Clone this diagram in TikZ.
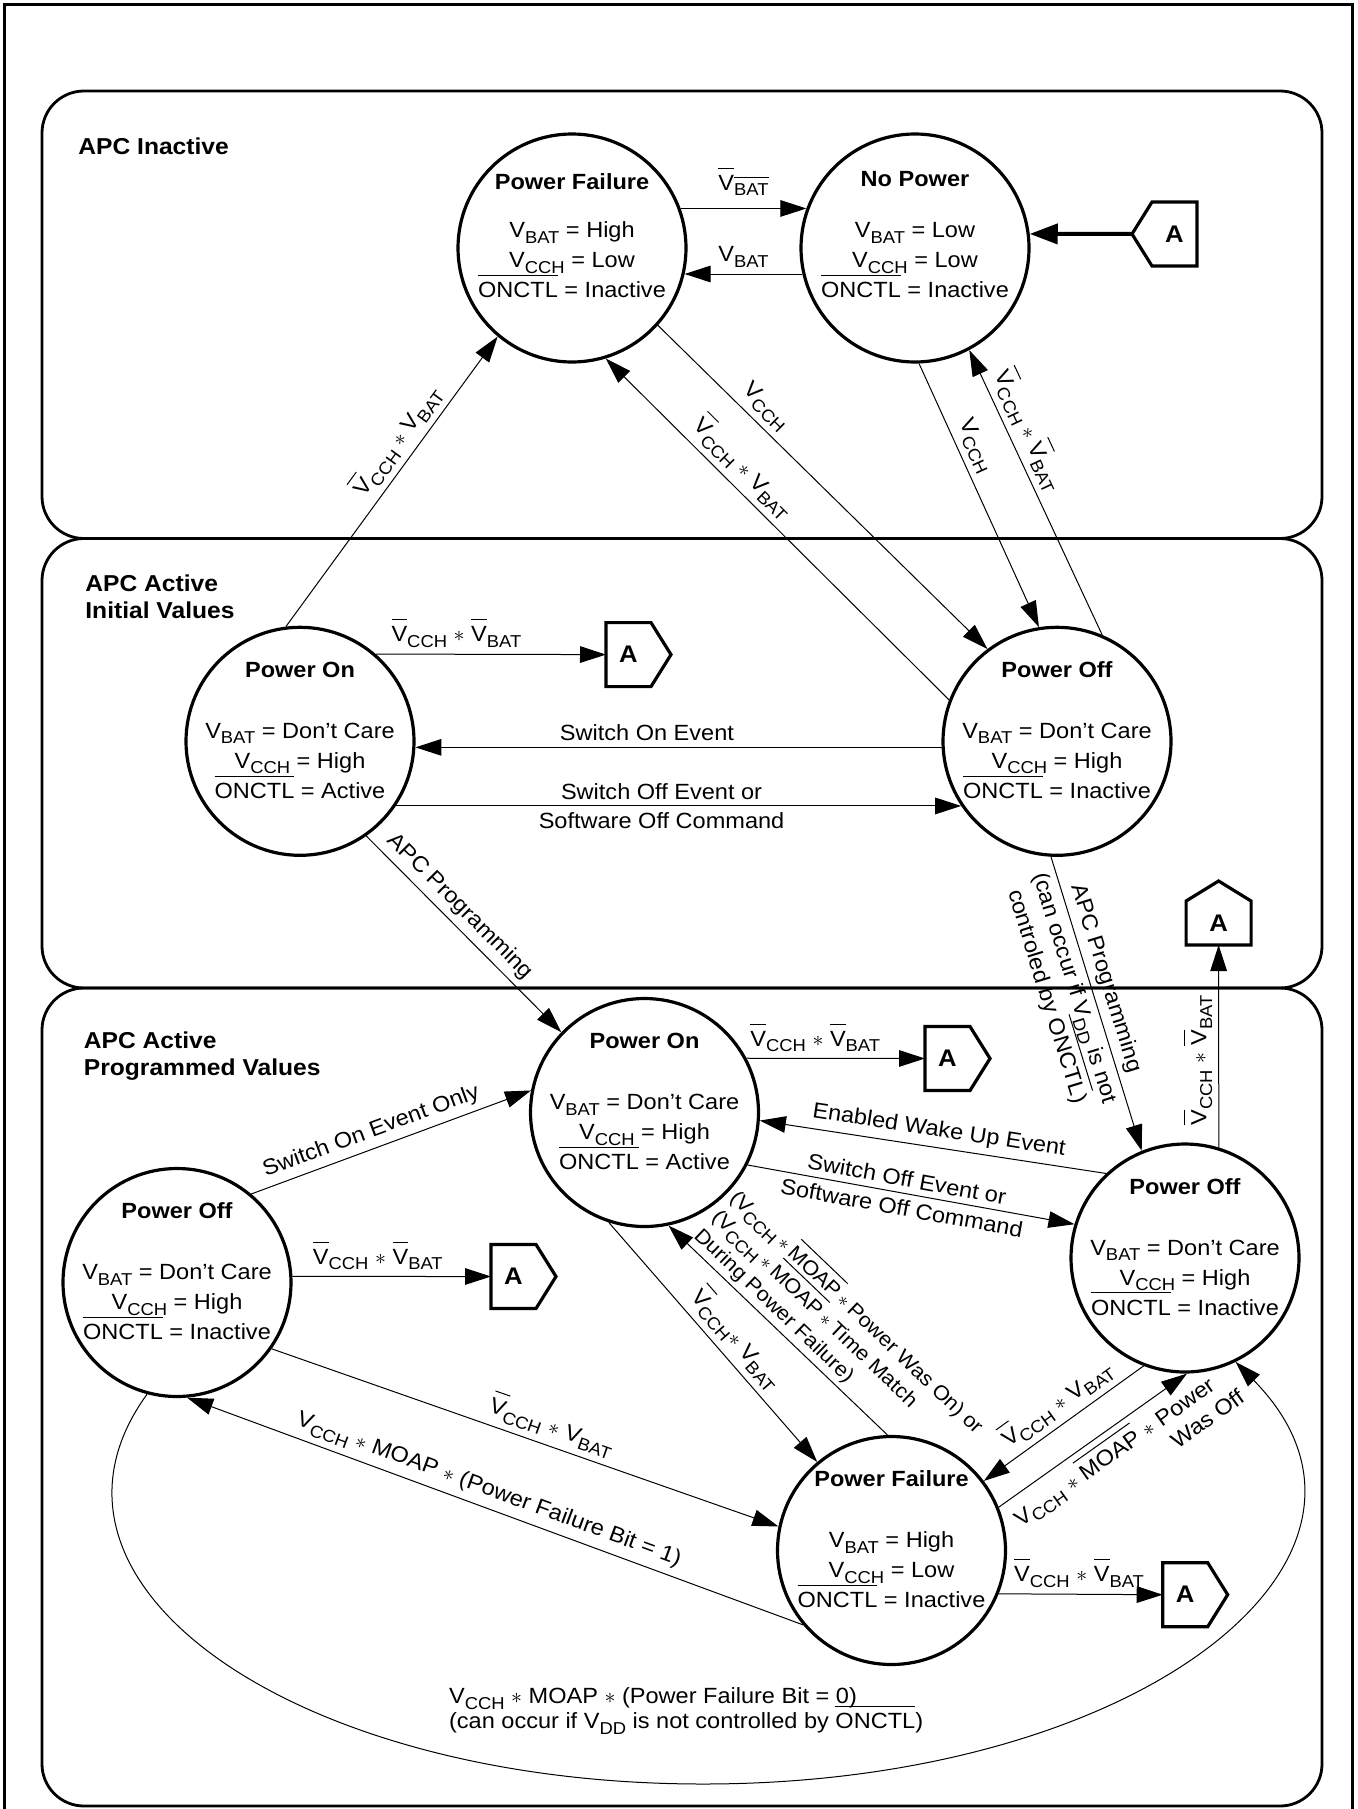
\documentclass[tikz,border=0pt]{standalone}
\usepackage{fontspec}
\setmainfont{Liberation Sans}[FakeStretch=1.07]
\usetikzlibrary{arrows.meta}

\newcommand\sbs[1]{\raisebox{-2.8pt}{\fontsize{8.6}{9}\selectfont #1}}
\newcommand\ovl[1]{\leavevmode\vbox{\hrule height 0.5pt\kern 3.2pt\hbox{#1}}}
\newcommand\mul{ $\ast$ }
\newcommand\tmul{\hspace{2pt}$\ast$\hspace{2pt}}
\newcommand\VV{\ovl{V}\sbs{CCH}\mul\ovl{V}\sbs{BAT}}
\newcommand\VN{\ovl{V}\sbs{CCH}\mul V\sbs{BAT}}

\newcommand\mystate[9]{%
  \node[stc] (#1) at (#2,#3) {};
  \node[ttl] (#1t) at ([yshift=#5]#1.center) {#4};
  \node[val] (#1a) at ([yshift=#6]#1.center) {#7};
  \node[val] (#1b) at ([yshift=#6-15pt]#1.center) {#8};
  \node[val] (#1c) at ([yshift=#6-30pt]#1.center) {#9};
}

\begin{document}
\begin{tikzpicture}[x=0.5pt, y=-0.5pt,
  every node/.style={font=\fontsize{11}{14}\selectfont, inner sep=0pt},
  stc/.style={circle, draw, line width=1.6pt, minimum size=114pt, inner sep=0pt},
  ttl/.style={anchor=base, font=\fontsize{11}{14}\selectfont\bfseries},
  val/.style={anchor=base},
  rtitle/.style={anchor=base west, font=\fontsize{11.5}{14}\selectfont\bfseries},
  lbl/.style={inner sep=3pt},
  ar/.style={-{Triangle[length=13pt,width=8.3pt]}, line width=0.5pt},
  region/.style={line width=1.4pt, rounded corners=21pt},
  abody/.style={minimum width=22.5pt, minimum height=32pt, inner sep=0pt, outer sep=0pt, font=\fontsize{12}{14}\selectfont\bfseries},
  abodyv/.style={abody, minimum width=32.5pt, minimum height=22pt},
  apent/.style={line width=1.6pt, line join=miter},
  ml/.style={execute at begin node={\lineskiplimit=-100pt\relax}},
]
\useasboundingbox (0,0) rectangle (1357,1809);
\clip (0,0) rectangle (1357,1809);

% frame and regions
\draw[line width=1.5pt] (4.5,5) rectangle (1352.5,1840);
\draw[region] (42,91) rectangle (1322,538.5);
\draw[region] (42,538.5) rectangle (1322,988);
\draw[region] (42,988) rectangle (1322,1806);

\node[rtitle] (r1) at (78,155) {APC Inactive};
\node[rtitle] (r2a) at (85,591) {APC Active};
\node[rtitle] (r2b) at (85,618) {Initial Values};
\node[rtitle] (r3a) at (83.5,1048) {APC Active};
\node[rtitle] (r3b) at (83.5,1075) {Programmed Values};

% states
\mystate{PF1}{572}{248}{Power Failure}{29.5pt}{5.15pt}{V\sbs{BAT} = High}{V\sbs{CCH} = Low}{\ovl{ONCTL} = Inactive}
\mystate{NP}{915}{248}{No Power}{31pt}{5.15pt}{V\sbs{BAT} = Low}{V\sbs{CCH} = Low}{\ovl{ONCTL} = Inactive}
\mystate{PO2}{300}{741.3}{Power On}{32pt}{1.5pt}{V\sbs{BAT} = Don’t Care}{V\sbs{CCH} = High}{\ovl{ONCTL} = Active}
\mystate{POff2}{1057}{741.3}{Power Off}{32pt}{1.5pt}{V\sbs{BAT} = Don’t Care}{V\sbs{CCH} = High}{\ovl{ONCTL} = Inactive}
\mystate{PO3}{644.5}{1112.5}{Power On}{32pt}{1.5pt}{V\sbs{BAT} = Don’t Care}{V\sbs{CCH} = High}{\ovl{ONCTL} = Active}
\mystate{POffL}{177}{1282.5}{Power Off}{32pt}{1.5pt}{V\sbs{BAT} = Don’t Care}{V\sbs{CCH} = High}{\ovl{ONCTL} = Inactive}
\mystate{POffR}{1185}{1258}{Power Off}{32pt}{1.5pt}{V\sbs{BAT} = Don’t Care}{V\sbs{CCH} = High}{\ovl{ONCTL} = Inactive}
\mystate{PF3}{891.5}{1550.5}{Power Failure}{32pt}{1.5pt}{V\sbs{BAT} = High}{V\sbs{CCH} = Low}{\ovl{ONCTL} = Inactive}

% A connectors
\node[abody] (A1) at (1174.5,234) {A};
\draw[apent] (A1.north east) -- (A1.north west) -- ([xshift=-10pt]A1.west) -- (A1.south west) -- (A1.south east) -- cycle;
\node[abody] (A2) at (628.5,654.6) {A};
\draw[apent] (A2.north west) -- (A2.north east) -- ([xshift=10pt]A2.east) -- (A2.south east) -- (A2.south west) -- cycle;
\node[abody] (A3) at (947.5,1058.5) {A};
\draw[apent] (A3.north west) -- (A3.north east) -- ([xshift=10pt]A3.east) -- (A3.south east) -- (A3.south west) -- cycle;
\node[abody] (A4) at (513.5,1276.5) {A};
\draw[apent] (A4.north west) -- (A4.north east) -- ([xshift=10pt]A4.east) -- (A4.south east) -- (A4.south west) -- cycle;
\node[abody] (A5) at (1185.2,1594.7) {A};
\draw[apent] (A5.north west) -- (A5.north east) -- ([xshift=10pt]A5.east) -- (A5.south east) -- (A5.south west) -- cycle;
\node[abodyv] (A6) at (1218.6,923) {A};
\draw[apent] (A6.south west) -- (A6.north west) -- ([yshift=10pt]A6.north) -- (A6.north east) -- (A6.south east) -- cycle;

\coordinate (A1tip) at ([xshift=-10pt]A1.west);
\draw[line width=2pt, -{Triangle[length=14pt,width=10pt]}] (A1tip) -- (NP.7);

% top region connectors
\draw[ar] (PF1.20) -- (NP.160) node[lbl, above=3pt, pos=0.5] (l1) {\ovl{V}\sbs{\ovl{BAT}}};
\draw[ar] (NP.193.58) -- (PF1.-13.58) node[lbl, above, pos=0.5] (l2) {V\sbs{BAT}};
\draw[ar] (PO2.97) -- (PF1.230) node[lbl, sloped, above, pos=0.6] (l4) {\VN};
\draw[ar] (POff2.159) -- (PF1.-73) node[lbl, sloped, above, pos=0.64] (l5) {\VN};
\draw[ar] (PF1.-42) -- (POff2.127) node[lbl, sloped, above, pos=0.29] (l6) {V\sbs{CCH}};
\draw[ar] (NP.-88) -- (POff2.99) node[lbl, sloped, above, pos=0.34] (l7) {V\sbs{CCH}};
\draw[ar] (POff2.67) -- (NP.-62) node[lbl, sloped, above, pos=0.69] (l8) {\VV};

% initial values region
\draw[ar] (PO2.49) -- (A2.west) node[lbl, above, pos=0.35] (l9) {\VV};
\draw[ar] (POff2.183) -- (PO2.-3) node[lbl, above, pos=0.56] (l10) {Switch On Event};
\draw[ar] (PO2.-34.66) -- (POff2.214.66)
  node[lbl, above, pos=0.47] (l11a) {Switch Off Event or}
  node[lbl, below, pos=0.47] (l11b) {Software Off Command};
\draw[ar] (PO2.-55) -- (PO3.136) node[lbl, sloped, above, pos=0.42] (l12) {APC Programming};
\draw[ar] (POff2.-93.5) -- (POffR.112)
  node[lbl, sloped, above, pos=0.43] (l13a) {APC Programming}
  node[lbl, sloped, below, pos=0.43, align=center, ml, font=\fontsize{11}{14.5}\selectfont] (l13b) {(can occur if V\sbs{DD} is not\\controled by \ovl{ONCTL})};
\draw[ar] (POffR.73) -- (A6.south) node[lbl, rotate=90, anchor=south, pos=0.43] (l14) {\VV};

% programmed values region
\draw[ar] (PO3.28) -- (A3.west) node[lbl, above, pos=0.385] (l15) {\VV};
\draw[ar] (POffL.3) -- (A4.west) node[lbl, above, pos=0.43] (l16) {\VV};
\draw[ar] (PF3.-22.6) -- (A5.west) node[lbl, above, pos=0.49] (l16b) {\VV};
\draw[ar] (POffL.50) -- (PO3.169) node[lbl, sloped, above, pos=0.45] (l17) {Switch On Event Only};
\draw[ar] (POffR.133) -- (PO3.-4) node[lbl, sloped, above, pos=0.49] (l18) {Enabled Wake Up Event};
\draw[ar] (PO3.-27) -- (POffR.163)
  node[lbl, sloped, above, pos=0.48] (l19a) {Switch Off Event or}
  node[lbl, sloped, below, pos=0.48] (l19b) {Software Off Command};
\draw[ar] (PO3.-108) -- (PF3.130) node[lbl, sloped, above, pos=0.54] (l20) {\ovl{V}\sbs{CCH}$\ast$ V\sbs{BAT}};
\draw[ar] (PF3.92) -- (PO3.-78)
  node[lbl, inner sep=2pt, sloped, above, pos=0.93, anchor=south west, align=left, ml, font=\fontsize{10.2}{13}\selectfont] (l21)
  {(V\sbs{CCH}\tmul\ovl{MOAP}\tmul Power Was On) or\\(V\sbs{CCH}\tmul\ovl{MOAP}\tmul Time Match\\During Power Failure)};
\draw[ar] (POffR.-111) -- (PF3.37) node[lbl, sloped, above, pos=0.47] (l22) {\VN};
\draw[ar] (PF3.22) -- (POffR.-89)
  node[lbl, sloped, below, pos=0, anchor=north west, align=left, ml, font=\fontsize{11}{13.5}\selectfont] (l23)
  {V\sbs{CCH}\mul\ovl{MOAP}\mul Power\\\hphantom{V\sbs{CCH}\mul\ovl{MOAP}\mul}Was Off};
\draw[ar] (PF3.220) -- (POffL.-85) node[lbl, sloped, above, pos=0.52] (l24) {V\sbs{CCH}\mul MOAP\mul(Power Failure Bit = 1)};
\draw[ar] (POffL.-35.5) -- (PF3.168) node[lbl, sloped, above, pos=0.54] (l25) {\VN};
\draw[ar] (POffL.-105) .. controls (9,1584) and (295,1784) .. (703,1784)
  .. controls (1140,1784) and (1427,1557) .. (POffR.-64);
\node[anchor=base west] (b1) at (448.7,1703.4) {V\sbs{CCH}\mul MOAP\mul(Power Failure Bit = 0)};
\node[anchor=base west] (b2) at (448.7,1728.7) {(can occur if V\sbs{DD} is not controlled by \ovl{ONCTL})};
\end{tikzpicture}
\end{document}
